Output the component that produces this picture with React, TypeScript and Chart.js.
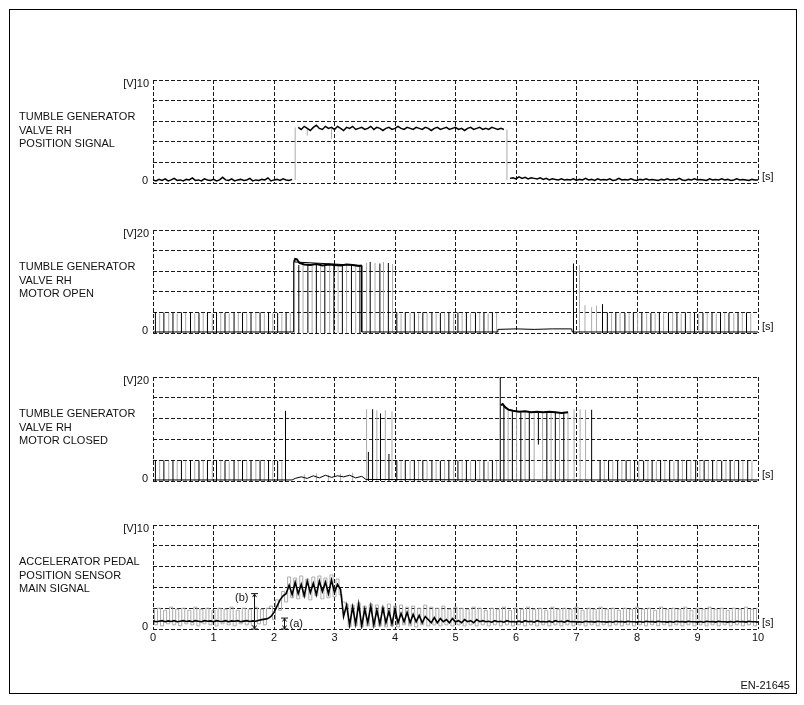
import React, { useEffect, useRef } from 'react';
import { Chart, registerables } from 'chart.js';

Chart.register(...registerables);

// ---------------- data ----------------
const X_TICK_LABELS = ['0', '1', '2', '3', '4', '5', '6', '7', '8', '9', '10'];
const SAMPLE_STEP = 0.05; // s between samples of the sampled traces

// Panel 1: tumble generator valve RH position signal [V], sampled every 0.05 s
const positionSignal: (number | null)[] = [
  0.3, 0.2, 0.35, 0.25, 0.4, 0.2, 0.3, 0.45, 0.25, 0.3,
  0.2, 0.35, 0.3, 0.5, 0.25, 0.3, 0.2, 0.4, 0.3, 0.25,
  0.35, 0.2, 0.3, 0.55, 0.3, 0.25, 0.4, 0.2, 0.3, 0.35,
  0.25, 0.3, 0.45, 0.2, 0.3, 0.25, 0.35, 0.3, 0.5, 0.2,
  0.3, 0.35, 0.25, 0.4, 0.3, 0.25, 0.35,
  null,
  5.4, 5.2, 5.5, 5.3, 5.1, 5.4, 5.6, 5.3, 5.2, 5.5,
  5.3, 5.4, 5.2, 5.5, 5.3, 5.1, 5.4, 5.3, 5.5, 5.2,
  5.3, 5.4, 5.2, 5.3, 5.5, 5.2, 5.4, 5.3, 5.1, 5.3,
  5.4, 5.2, 5.3, 5.5, 5.3, 5.2, 5.4, 5.3, 5.2, 5.4,
  5.3, 5.2, 5.4, 5.3, 5.1, 5.3, 5.4, 5.2, 5.3, 5.4,
  5.2, 5.3, 5.4, 5.2, 5.3, 5.1, 5.3, 5.4, 5.2, 5.3,
  5.4, 5.2, 5.3, 5.2, 5.4, 5.3, 5.2, 5.3, 5.2,
  null,
  0.45, 0.5, 0.4, 0.6, 0.45, 0.55, 0.4, 0.5, 0.45, 0.4,
  0.5, 0.35, 0.45, 0.3, 0.4, 0.35, 0.3, 0.4, 0.3, 0.35,
  0.3, 0.4, 0.25, 0.35, 0.3, 0.45, 0.3, 0.35, 0.25, 0.4,
  0.3, 0.35, 0.3, 0.4, 0.25, 0.3, 0.45, 0.3, 0.35, 0.3,
  0.4, 0.3, 0.25, 0.35, 0.3, 0.4, 0.3, 0.35, 0.3, 0.25,
  0.35, 0.3, 0.4, 0.3, 0.35, 0.3, 0.45, 0.3, 0.25, 0.35,
  0.3, 0.4, 0.3, 0.35, 0.3, 0.25, 0.4, 0.3, 0.35, 0.3,
  0.4, 0.3, 0.35, 0.25, 0.3, 0.4, 0.3, 0.35, 0.3, 0.25,
  0.35, 0.3, 0.3,
];
// vertical grey strokes: [time s, top V, bottom V]
const positionEdges = [
  [2.35, 5.4, 0.3],
  [2.55, 5.3, 4.6],
  [2.95, 5.3, 4.3],
  [5.85, 5.2, 0.3],
];

// Panel 2: motor open [V]
const openBase = [
  [0, 0.2], [2.32, 0.2], [2.32, 13.8], [2.33, 13.8],
  [3.45, 13.1], [3.45, 0.2], [5.69, 0.2], [5.7, 0.7], [6.0, 0.8], [6.3, 0.7],
  [6.6, 0.8], [6.92, 0.8], [6.93, 0.2], [10, 0.2],
];
const openHigh = [
  [2.33, 13.8], [2.35, 14.4], [2.38, 14.3], [2.42, 13.6], [2.5, 13.3], [2.6, 13.2],
  [2.7, 13.4], [2.8, 13.1], [2.9, 13.3], [3.0, 13.2], [3.1, 13.1], [3.2, 13.3],
  [3.3, 13.2], [3.4, 13.0], [3.45, 13.1],
];
const openBlackPulses = [
  [0.04, 4.0], [0.18, 4.0], [0.33, 3.9], [0.47, 4.0], [0.62, 4.0], [0.76, 3.9], [0.9, 4.0], [1.05, 4.0],
  [1.19, 3.9], [1.34, 4.0], [1.48, 4.0], [1.62, 3.9], [1.77, 4.0], [1.91, 4.0], [2.06, 3.9], [2.2, 4.0],
  [2.41, 13.2], [2.56, 13.2], [2.7, 13.3], [2.84, 13.1], [2.99, 13.2], [3.13, 13.1], [3.28, 13.2], [3.42, 13.0],
  [3.59, 13.8], [3.75, 13.5], [3.89, 13.6],
  [4.03, 4.0], [4.17, 4.0], [4.32, 3.9], [4.46, 4.0], [4.61, 4.0], [4.75, 3.9], [4.89, 4.0], [5.04, 4.0],
  [5.18, 3.9], [5.33, 4.0], [5.47, 4.0], [5.61, 3.9],
  [6.95, 13.5], [7.43, 5.6],
  [7.51, 4.0], [7.65, 4.0], [7.8, 3.9], [7.94, 4.0], [8.08, 4.0], [8.23, 3.9], [8.37, 4.0], [8.52, 4.0],
  [8.66, 3.9], [8.8, 4.0], [8.95, 4.0], [9.09, 3.9], [9.24, 4.0], [9.38, 4.0], [9.52, 3.9], [9.67, 4.0], [9.81, 4.0],
];
const openGrayPulses = [
  [0.11, 3.8], [0.26, 3.9], [0.4, 3.8], [0.54, 3.9], [0.69, 3.8], [0.83, 3.9], [0.98, 3.8], [1.12, 3.9],
  [1.26, 3.8], [1.41, 3.9], [1.55, 3.8], [1.7, 3.9], [1.84, 3.8], [1.98, 3.9], [2.13, 3.8], [2.27, 3.9],
  [2.34, 13.6], [2.48, 13.3], [2.63, 13.2], [2.77, 13.2], [2.92, 13.2], [3.06, 13.2], [3.2, 13.2], [3.35, 13.2],
  [3.53, 13.6], [3.67, 13.6], [3.81, 13.8], [3.96, 13.4],
  [4.1, 3.8], [4.25, 3.9], [4.39, 3.8], [4.53, 3.9], [4.68, 3.8], [4.82, 3.9], [4.97, 3.8], [5.11, 3.9],
  [5.25, 3.8], [5.4, 3.9], [5.54, 3.8], [5.68, 3.9],
  [7.05, 13.2], [7.14, 5.4], [7.25, 5.0], [7.33, 5.3],
  [7.58, 3.8], [7.72, 3.9], [7.87, 3.8], [8.01, 3.9], [8.16, 3.8], [8.3, 3.9], [8.44, 3.8], [8.59, 3.9],
  [8.73, 3.8], [8.88, 3.9], [9.02, 3.8], [9.16, 3.9], [9.31, 3.8], [9.45, 3.9], [9.6, 3.8], [9.74, 3.9], [9.88, 3.8],
];

// Panel 3: motor closed [V]
const closedBase = [
  [0, 0.2], [2.3, 0.2], [2.35, 0.5], [2.45, 0.8], [2.55, 0.5], [2.65, 1.0], [2.75, 0.6], [2.85, 1.1],
  [2.95, 0.7], [3.05, 1.0], [3.15, 0.8], [3.25, 1.1], [3.35, 0.6], [3.45, 0.9], [3.52, 0.3],
  [5.74, 0.2], [6.86, 0.2], [10, 0.2],
];
const closedHigh = [
  [5.75, 14.6], [5.78, 14.8], [5.82, 14.2], [5.88, 13.7], [5.95, 13.5], [6.05, 13.3], [6.15, 13.4],
  [6.25, 13.2], [6.35, 13.3], [6.45, 13.2], [6.55, 13.3], [6.65, 13.2], [6.75, 13.1], [6.86, 13.2],
];
const closedBlackPulses = [
  [0.04, 4.0], [0.18, 4.0], [0.33, 3.9], [0.47, 4.0], [0.62, 4.0], [0.76, 3.9], [0.9, 4.0], [1.05, 4.0],
  [1.19, 3.9], [1.34, 4.0], [1.48, 4.0], [1.62, 3.9], [1.77, 4.0], [1.91, 4.0], [2.06, 3.9],
  [2.19, 13.5],
  [3.56, 5.6], [3.63, 13.8], [3.76, 13.0], [3.9, 5.2],
  [4.03, 4.0], [4.17, 4.0], [4.32, 3.9], [4.46, 4.0], [4.61, 4.0], [4.75, 3.9], [4.89, 4.0], [5.04, 4.0],
  [5.18, 3.9], [5.33, 4.0], [5.47, 4.0], [5.61, 3.9],
  [5.74, 20.0], [5.8, 14.5], [5.94, 13.4], [6.08, 13.3], [6.22, 13.4], [6.37, 13.2, 7.0], [6.51, 13.2],
  [6.65, 13.3], [6.79, 13.1],
  [7.25, 13.7],
  [7.39, 4.0], [7.53, 4.0], [7.68, 3.9], [7.82, 4.0], [7.96, 4.0], [8.11, 3.9], [8.25, 4.0], [8.39, 4.0],
  [8.54, 3.9], [8.68, 4.0], [8.82, 4.0], [8.97, 3.9], [9.11, 4.0], [9.25, 4.0], [9.4, 3.9], [9.54, 4.0],
  [9.68, 4.0], [9.83, 3.9],
];
const closedGrayPulses = [
  [0.11, 3.8], [0.26, 3.9], [0.4, 3.8], [0.54, 3.9], [0.69, 3.8], [0.83, 3.9], [0.98, 3.8], [1.12, 3.9],
  [1.26, 3.8], [1.41, 3.9], [1.55, 3.8], [1.7, 3.9], [1.84, 3.8], [1.98, 3.9], [2.13, 3.8],
  [2.5, 1.3], [2.7, 1.5], [2.9, 1.2], [3.1, 1.4], [3.3, 1.6],
  [3.53, 13.8], [3.7, 13.6], [3.84, 13.6], [3.95, 13.4],
  [4.1, 3.8], [4.25, 3.9], [4.39, 3.8], [4.53, 3.9], [4.68, 3.8], [4.82, 3.9], [4.97, 3.8], [5.11, 3.9],
  [5.25, 3.8], [5.4, 3.9], [5.54, 3.8], [5.68, 3.9],
  [5.87, 13.6], [6.01, 13.4], [6.15, 13.3], [6.3, 13.3], [6.44, 13.2], [6.58, 13.2], [6.72, 13.2], [6.86, 13.2],
  [6.96, 13.8], [7.06, 13.8], [7.15, 13.7],
  [7.46, 3.8], [7.6, 3.9], [7.75, 3.8], [7.89, 3.9], [8.03, 3.8], [8.18, 3.9], [8.32, 3.8], [8.46, 3.9],
  [8.61, 3.8], [8.75, 3.9], [8.89, 3.8], [9.04, 3.9], [9.18, 3.8], [9.32, 3.9], [9.47, 3.8], [9.61, 3.9],
  [9.75, 3.8], [9.9, 3.9],
];

// Panel 4: accelerator pedal position sensor main signal [V], sampled every 0.05 s
const pedalBlack: number[] = [
  0.8, 0.7, 0.75, 0.8, 0.7, 0.78, 0.72, 0.8, 0.7, 0.75,
  0.8, 0.72, 0.78, 0.7, 0.8, 0.75, 0.7, 0.8, 0.74, 0.78,
  0.7, 0.8, 0.75, 0.72, 0.8, 0.7, 0.78, 0.75, 0.8, 0.7,
  0.76, 0.8, 0.72, 0.78, 0.75,
  0.85, 0.9, 0.95, 1.0, 1.2,
  1.6, 2.2, 2.8, 3.2, 3.4,
  4.2, 3.3, 4.5, 3.4, 4.3, 3.2, 4.6, 3.5, 4.4, 3.3, 4.6, 3.6, 4.5, 3.4, 4.7, 3.5, 4.3,
  3.8, 1.2,
  2.3, 0.4, 2.1, 0.5, 2.4, 0.3, 1.9, 0.6, 2.2, 0.4,
  1.8, 0.5, 2.0, 0.6, 1.7, 0.5, 1.9, 0.6, 1.5, 0.7,
  1.6, 0.6, 1.4, 0.7, 1.3, 0.6, 1.2,
  0.9, 0.6, 1.1, 0.6, 1.0, 0.7, 0.9, 0.6, 1.0, 0.7,
  0.8, 0.6, 0.9, 0.7, 0.8, 0.6, 0.9, 0.7, 0.8, 0.7,
  0.75, 0.65, 0.8, 0.7, 0.75, 0.65, 0.8, 0.7, 0.72, 0.68,
  0.75, 0.65, 0.8, 0.7, 0.75, 0.65, 0.8, 0.7, 0.72, 0.68,
  0.75, 0.65, 0.8, 0.7, 0.75, 0.65, 0.8, 0.7, 0.72, 0.68,
  0.7, 0.65, 0.75, 0.7, 0.72, 0.66, 0.75, 0.7, 0.7, 0.66,
  0.72, 0.65, 0.75, 0.7, 0.72, 0.66, 0.75, 0.7, 0.7, 0.66,
  0.72, 0.65, 0.75, 0.7, 0.72, 0.66, 0.75, 0.7, 0.7, 0.66,
  0.72, 0.65, 0.75, 0.7, 0.72, 0.66, 0.75, 0.7, 0.7, 0.66,
  0.72, 0.65, 0.75, 0.7, 0.72, 0.66, 0.75, 0.7, 0.7, 0.66,
  0.72, 0.65, 0.75, 0.7, 0.72, 0.66, 0.75, 0.7, 0.7, 0.66,
];
const pedalGray: number[] = [
  1.9, 0.4, 2.0, 0.3, 1.8, 0.5, 2.1, 0.4, 1.9, 0.3,
  2.0, 0.5, 1.8, 0.4, 2.1, 0.3, 1.9, 0.5, 2.0, 0.4,
  1.8, 0.3, 2.0, 0.5, 1.9, 0.4, 2.1, 0.3, 1.8, 0.5,
  2.0, 0.4, 1.9, 0.3, 2.1, 0.5, 1.9, 0.4, 2.0,
  2.2, 0.9, 2.8, 1.8, 3.6, 2.6,
  5.0, 3.0, 4.9, 2.9, 5.1, 3.1, 4.8, 2.8, 5.0, 3.2, 5.1, 2.9, 4.9, 3.0, 5.2, 3.1, 4.8, 3.3,
  2.6,
  2.4, 0.2, 2.3, 0.3, 2.5, 0.2, 2.2, 0.3, 2.4, 0.2,
  2.3, 0.3, 2.1, 0.2, 2.4, 0.3, 2.2, 0.2, 2.3, 0.4,
  2.1, 0.3, 2.2, 0.2, 2.0, 0.4, 2.3, 0.3, 2.1, 0.4,
  2.0, 0.3, 2.2, 0.4, 1.9, 0.3, 2.1, 0.4, 2.0, 0.3,
  1.9, 0.4, 2.1, 0.3, 2.0, 0.4, 1.8, 0.3, 2.0, 0.4,
  1.9, 0.3, 2.1, 0.4, 1.8, 0.3, 2.0, 0.4, 1.9, 0.3,
  2.1, 0.4, 1.9, 0.3, 2.0, 0.4, 1.8, 0.3, 2.1, 0.4,
  1.9, 0.3, 2.0, 0.4, 1.9, 0.3, 2.1, 0.4, 1.8, 0.3,
  2.0, 0.4, 1.9, 0.3, 2.1, 0.4, 1.9, 0.3, 2.0, 0.4,
  1.8, 0.3, 2.0, 0.4, 1.9, 0.3, 2.1, 0.4, 1.9, 0.3,
  2.0, 0.4, 1.8, 0.3, 2.1, 0.4, 1.9, 0.3, 2.0, 0.4,
  1.9, 0.3, 2.1, 0.4, 1.8, 0.3, 2.0, 0.4, 1.9, 0.3,
  2.1, 0.4, 1.9, 0.3, 2.0, 0.4, 1.8, 0.3, 2.0, 0.4,
  1.9, 0.3, 2.1, 0.4, 1.9, 0.3, 2.0,
];
// dimension markers: [time s, top V]
const markerB = [1.67, 3.4];
const markerA = [2.17, 1.05];

// ---------------- layout / style ----------------
const W = 804;
const H = 705;
const FONT = '"Liberation Sans", Arial, sans-serif';
const PLOT_LEFT = 153;
const PLOT_RIGHT = 758;
const GRID_COLOR = '#1a1a1a';
const GRID_DASH = [4, 2];
const BLACK = '#000000';
const GRAY = '#ababab';

const sampled = (values: (number | null)[]) =>
  values.map((v, i) => ({ x: Math.round(i * SAMPLE_STEP * 1000) / 1000, y: v }));
const pairs = (list: number[][]) => list.map(([x, y]) => ({ x, y }));
const strokes = (list: number[][]) => {
  const pts: { x: number; y: number | null }[] = [];
  list.forEach(([t, top, base = 0]) => {
    pts.push({ x: t, y: base }, { x: t, y: top }, { x: t, y: null });
  });
  return pts;
};
const ds = (data: any[], color: string, width = 1, stepped: any = false) => ({
  data,
  borderColor: color,
  borderWidth: width,
  pointRadius: 0,
  fill: false,
  spanGaps: false,
  tension: 0,
  stepped,
});

type Panel = {
  top: number;
  bottom: number;
  yMax: number;
  title: string[];
  datasets: any[];
  xLabels?: boolean;
  markers?: boolean;
};

const PANELS: Panel[] = [
  {
    top: 80,
    bottom: 183,
    yMax: 10,
    title: ['TUMBLE GENERATOR', 'VALVE RH', 'POSITION SIGNAL'],
    datasets: [ds(sampled(positionSignal), BLACK, 1.5), ds(strokes(positionEdges), GRAY, 1)],
  },
  {
    top: 230,
    bottom: 333,
    yMax: 20,
    title: ['TUMBLE GENERATOR', 'VALVE RH', 'MOTOR OPEN'],
    datasets: [
      ds(pairs(openHigh), BLACK, 2),
      ds(strokes(openBlackPulses), BLACK, 1),
      ds(pairs(openBase), BLACK, 1),
      ds(strokes(openGrayPulses), GRAY, 1),
    ],
  },
  {
    top: 377,
    bottom: 481,
    yMax: 20,
    title: ['TUMBLE GENERATOR', 'VALVE RH', 'MOTOR CLOSED'],
    datasets: [
      ds(pairs(closedHigh), BLACK, 2),
      ds(strokes(closedBlackPulses), BLACK, 1),
      ds(pairs(closedBase), BLACK, 1),
      ds(strokes(closedGrayPulses), GRAY, 1),
    ],
  },
  {
    top: 525,
    bottom: 629,
    yMax: 10,
    title: ['ACCELERATOR PEDAL', 'POSITION SENSOR', 'MAIN SIGNAL'],
    datasets: [ds(sampled(pedalBlack), BLACK, 1.6), ds(sampled(pedalGray), GRAY, 1, 'middle')],
    xLabels: true,
    markers: true,
  },
];

const drawMarker = (ctx: CanvasRenderingContext2D, x: number, yTop: number, yBot: number) => {
  ctx.beginPath();
  ctx.moveTo(x, yTop);
  ctx.lineTo(x, yBot);
  ctx.moveTo(x - 3.5, yTop);
  ctx.lineTo(x + 3.5, yTop);
  ctx.moveTo(x - 3.5, yBot);
  ctx.lineTo(x + 3.5, yBot);
  ctx.moveTo(x - 2, yTop + 3.5);
  ctx.lineTo(x, yTop + 0.5);
  ctx.lineTo(x + 2, yTop + 3.5);
  ctx.moveTo(x - 2, yBot - 3.5);
  ctx.lineTo(x, yBot - 0.5);
  ctx.lineTo(x + 2, yBot - 3.5);
  ctx.stroke();
};

const labelPlugin = (p: Panel, idx: number) => ({
  id: 'panelLabels' + idx,
  afterDraw(chart: any) {
    const { ctx, chartArea: a, scales } = chart;
    const xs = scales.x;
    const ys = scales.y;
    ctx.save();
    ctx.fillStyle = '#111';
    ctx.strokeStyle = '#111';
    ctx.lineWidth = 1;
    ctx.font = `11px ${FONT}`;
    ctx.textBaseline = 'middle';
    ctx.textAlign = 'right';
    ctx.fillText(`[V]${p.yMax}`, a.left - 4, ys.getPixelForValue(p.yMax) + 4);
    ctx.fillText('0', a.left - 5, ys.getPixelForValue(0) - 2);
    ctx.textAlign = 'left';
    ctx.fillText('[s]', a.right + 4, ys.getPixelForValue(0) - 6);
    p.title.forEach((line, i) => ctx.fillText(line, 19, a.top + 37 + i * 13.7));
    if (p.xLabels) {
      ctx.textAlign = 'center';
      X_TICK_LABELS.forEach((lab) => {
        ctx.fillText(lab, xs.getPixelForValue(Number(lab)), a.bottom + 9);
      });
    }
    if (p.markers) {
      const xb = Math.round(xs.getPixelForValue(markerB[0])) + 0.5;
      drawMarker(ctx, xb, ys.getPixelForValue(markerB[1]), ys.getPixelForValue(0));
      ctx.textAlign = 'right';
      ctx.fillText('(b)', xb - 6, ys.getPixelForValue(markerB[1]) + 4);
      const xa = Math.round(xs.getPixelForValue(markerA[0])) + 0.5;
      drawMarker(ctx, xa, ys.getPixelForValue(markerA[1]), ys.getPixelForValue(0));
      ctx.textAlign = 'left';
      ctx.fillText('(a)', xa + 5, (ys.getPixelForValue(markerA[1]) + ys.getPixelForValue(0)) / 2);
    }
    ctx.restore();
  },
});

const buildConfig = (p: Panel, idx: number): any => ({
  type: 'line',
  data: { datasets: p.datasets },
  options: {
    responsive: false,
    animation: false,
    events: [],
    layout: {
      padding: { left: PLOT_LEFT, right: W - PLOT_RIGHT, top: p.top, bottom: H - p.bottom },
    },
    plugins: { legend: { display: false }, tooltip: { enabled: false } },
    elements: { point: { radius: 0 }, line: { tension: 0 } },
    scales: {
      x: {
        type: 'linear',
        min: 0,
        max: 10,
        ticks: { display: false, stepSize: 1 },
        grid: { color: GRID_COLOR, lineWidth: 1, drawTicks: false },
        border: { display: false, dash: GRID_DASH },
      },
      y: {
        type: 'linear',
        min: 0,
        max: p.yMax,
        ticks: { display: false, stepSize: p.yMax / 5 },
        grid: { color: GRID_COLOR, lineWidth: 1, drawTicks: false },
        border: { display: false, dash: GRID_DASH },
      },
    },
  },
  plugins: [labelPlugin(p, idx)],
});

export default function App() {
  const r0 = useRef<HTMLCanvasElement>(null);
  const r1 = useRef<HTMLCanvasElement>(null);
  const r2 = useRef<HTMLCanvasElement>(null);
  const r3 = useRef<HTMLCanvasElement>(null);
  const refs = [r0, r1, r2, r3];

  useEffect(() => {
    const charts = PANELS.map((p, i) => new Chart(refs[i].current as HTMLCanvasElement, buildConfig(p, i)));
    return () => charts.forEach((c) => c.destroy());
  }, []);

  return (
    <div style={{ position: 'absolute', left: 0, top: 0, width: W, height: H, background: '#fff', fontFamily: FONT }}>
      <div
        style={{
          position: 'absolute',
          left: 9,
          top: 9,
          width: 788,
          height: 685,
          border: '1px solid #000',
          boxSizing: 'border-box',
        }}
      />
      {PANELS.map((_, i) => (
        <canvas
          key={i}
          ref={refs[i]}
          width={W}
          height={H}
          style={{ position: 'absolute', left: 0, top: 0, width: W, height: H }}
        />
      ))}
      <div
        style={{
          position: 'absolute',
          left: 0,
          top: 679,
          width: 790,
          textAlign: 'right',
          fontSize: 11,
          lineHeight: '13px',
          color: '#111',
        }}
      >
        EN-21645
      </div>
    </div>
  );
}
